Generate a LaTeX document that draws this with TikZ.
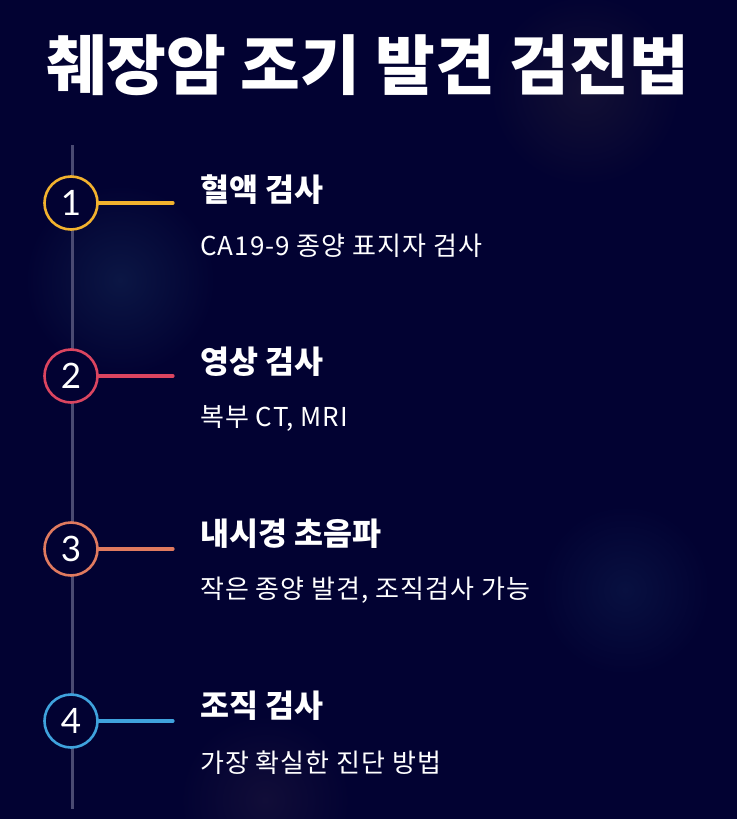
\documentclass[tikz,border=0pt]{standalone}
\usepackage{fontspec}
\setmainfont{Noto Sans CJK KR}
\newfontfamily\numfont{Lato}
\definecolor{bg}{HTML}{020232}
\definecolor{rail}{HTML}{4A4A72}
\definecolor{cA}{HTML}{F2B22E}
\definecolor{cB}{HTML}{DB4560}
\definecolor{cC}{HTML}{E07A5F}
\definecolor{cD}{HTML}{3FA2DD}
\definecolor{glowA}{HTML}{131034}
\definecolor{glowB}{HTML}{0B1644}
\definecolor{glowC}{HTML}{081040}
\definecolor{glowD}{HTML}{110D38}
\tikzset{
  stepcircle/.style={circle, draw=#1, line width=2.6pt, minimum size=53pt, inner sep=0pt, fill=bg, text=white, font=\numfont\fontsize{35}{35}\selectfont},
  connector/.style={draw=#1, line width=3.2pt, line cap=round},
  heading/.style={anchor=west, text=white, font=\bfseries\fontsize{31.5}{34}\selectfont, inner sep=0pt},
  subtext/.style={anchor=west, text=white, font=\fontsize{26}{28}\selectfont\addfontfeature{LetterSpace=4}, inner sep=0pt},
  titletext/.style={text=white, font=\bfseries\fontsize{65}{70}\selectfont, inner sep=0pt},
}
\begin{document}
\begin{tikzpicture}[x=1pt,y=-1pt]
\useasboundingbox (0,0) rectangle (737,819);
\fill[bg] (0,0) rectangle (737,819);
\begin{scope}
\clip (0,0) rectangle (737,819);
\shade[inner color=glowA, outer color=bg] (585,90) circle (95);
\shade[inner color=glowB, outer color=bg] (120,280) circle (95);
\shade[inner color=glowC, outer color=bg] (625,590) circle (85);
\shade[inner color=glowD, outer color=bg] (265,800) circle (85);
\end{scope}

\node[titletext] (title) at (368,65) {췌장암 조기 발견 검진법};

\coordinate (railtop) at (72.5,145);
\coordinate (railbot) at (72.5,809);
\draw[rail, line width=3pt] (railtop) -- (railbot);

\node[stepcircle=cA] (n1) at (71,203) {1};
\node[stepcircle=cB] (n2) at (71,376) {2};
\node[stepcircle=cC] (n3) at (71,549) {3};
\node[stepcircle=cD] (n4) at (71,721) {4};

\coordinate (e1) at (173,203);
\coordinate (e2) at (173,376);
\coordinate (e3) at (173,549);
\coordinate (e4) at (173,721);
\draw[connector=cA] (n1.east) -- (e1);
\draw[connector=cB] (n2.east) -- (e2);
\draw[connector=cC] (n3.east) -- (e3);
\draw[connector=cD] (n4.east) -- (e4);

\node[heading] (h1) at (200,190) {혈액 검사};
\node[subtext] (s1) at (200,246) {CA19-9 종양 표지자 검사};
\node[heading] (h2) at (200,362) {영상 검사};
\node[subtext] (s2) at (200,418) {복부 CT, MRI};
\node[heading] (h3) at (200,534) {내시경 초음파};
\node[subtext] (s3) at (200,590) {작은 종양 발견, 조직검사 가능};
\node[heading] (h4) at (200,706) {조직 검사};
\node[subtext] (s4) at (200,763) {가장 확실한 진단 방법};
\end{tikzpicture}
\end{document}
